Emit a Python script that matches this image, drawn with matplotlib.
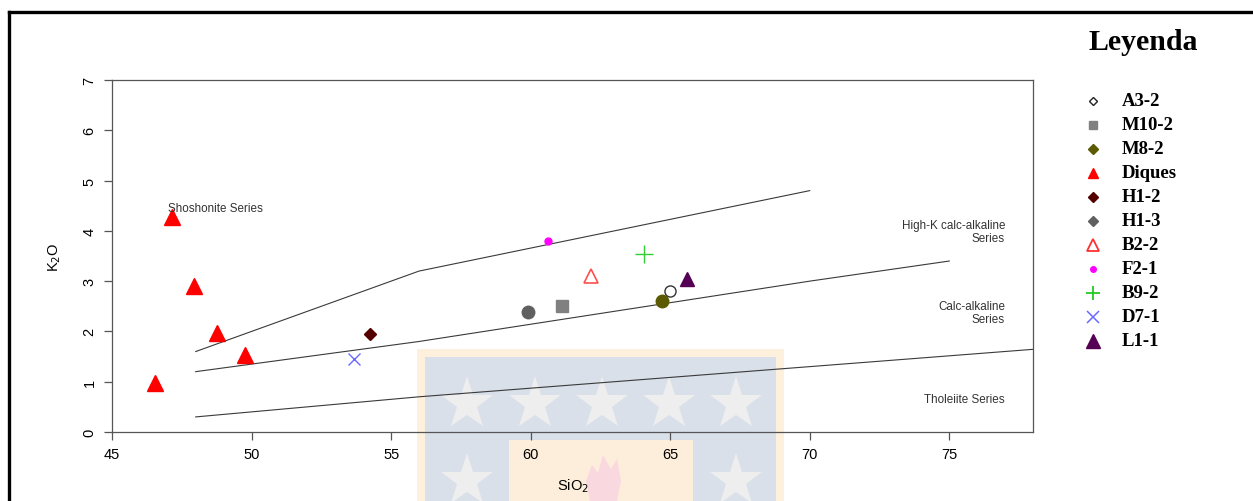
import matplotlib
matplotlib.use("Agg")
import matplotlib.pyplot as plt
from matplotlib.lines import Line2D
from matplotlib.patches import Rectangle, Polygon
import numpy as np

# Peccerillo & Taylor (1976) K2O vs SiO2 boundaries
shosh_x = [48, 56, 70]
shosh_y = [1.6, 3.2, 4.8]
highk_x = [48, 56, 63, 70, 75]
highk_y = [1.2, 1.8, 2.4, 3.0, 3.4]
thol_x = [48, 56, 70, 80]
thol_y = [0.3, 0.7, 1.3, 1.73]

# samples
diques_sio2 = [47.15, 47.94, 48.76, 49.77, 46.54]
diques_k2o = [4.28, 2.90, 1.97, 1.53, 0.97]

samples = ["A3-2", "M10-2", "M8-2", "H1-2", "H1-3", "B2-2", "F2-1", "B9-2", "D7-1", "L1-1"]
sio2 = [64.98, 61.14, 64.70, 54.26, 59.91, 62.17, 60.62, 64.07, 53.68, 65.62]
k2o = [2.81, 2.50, 2.60, 1.95, 2.39, 3.10, 3.79, 3.53, 1.45, 3.04]

styles = {
    "A3-2":  dict(marker="o", ms=8, mfc="white", mec="#333333", mew=1.0),
    "M10-2": dict(marker="s", ms=8, mfc="#808080", mec="#808080"),
    "M8-2":  dict(marker="o", ms=9, mfc="#5c5a00", mec="#5c5a00"),
    "H1-2":  dict(marker="D", ms=6, mfc="#550000", mec="#550000"),
    "H1-3":  dict(marker="o", ms=9, mfc="#606060", mec="#606060"),
    "B2-2":  dict(marker="^", ms=10, mfc="none", mec="#ff4f4f", mew=1.2),
    "F2-1":  dict(marker="o", ms=5, mfc="#ff00ff", mec="#ff00ff"),
    "B9-2":  dict(marker="+", ms=13, mec="#33cc33", mew=1.0),
    "D7-1":  dict(marker="x", ms=9, mec="#6a6aff", mew=1.0),
    "L1-1":  dict(marker="^", ms=10, mfc="#550055", mec="#550055"),
}
diques_style = dict(marker="^", ms=11, mfc="#ff0000", mec="#ff0000")

# legend entries (order and symbols as in the key)
leg_names = ["A3-2", "M10-2", "M8-2", "Diques", "H1-2", "H1-3", "B2-2", "F2-1", "B9-2", "D7-1", "L1-1"]
leg_styles = [
    dict(marker="D", ms=4.5, mfc="white", mec="#222222", mew=1.0),
    dict(marker="s", ms=6, mfc="#808080", mec="#808080"),
    dict(marker="D", ms=5, mfc="#5c5a00", mec="#5c5a00"),
    dict(marker="^", ms=7, mfc="#ff0000", mec="#ff0000"),
    dict(marker="D", ms=5, mfc="#550000", mec="#550000"),
    dict(marker="D", ms=5, mfc="#606060", mec="#606060"),
    dict(marker="^", ms=8, mfc="none", mec="#ff3030", mew=1.3),
    dict(marker="o", ms=4, mfc="#ff00ff", mec="#ff00ff"),
    dict(marker="+", ms=10, mec="#22cc22", mew=1.3),
    dict(marker="x", ms=8, mec="#6a6aff", mew=1.1),
    dict(marker="^", ms=10, mfc="#550055", mec="#550055"),
]

W, H = 1253, 502
fig = plt.figure(figsize=(W / 100, H / 100), dpi=100)

def px(x, y):
    return x / W, 1 - y / H

# background watermark
wm = [
    (417, 350, 784, 510, "#fdf0dc"),
    (425, 358, 776, 510, "#d9e0ea"),
    (509, 441, 693, 510, "#fdeedb"),
]
for x0, y0, x1, y1, c in wm:
    fig.patches.append(Rectangle(px(x0, y1), (x1 - x0) / W, (y1 - y0) / H,
                                 transform=fig.transFigure, color=c, zorder=-5, lw=0))
for sx, sy in [(467, 405), (535, 405), (602, 405), (669, 405), (736, 405), (467, 482), (736, 482)]:
    fig.add_artist(Line2D([sx / W], [1 - sy / H], transform=fig.transFigure, marker="*",
                          ms=40, color="#eeeeee", mew=0, zorder=-4))
flame = [(590, 502), (586, 482), (592, 466), (598, 474), (603, 456), (611, 470), (617, 460),
         (621, 482), (617, 502)]
fig.patches.append(Polygon([px(a, b) for a, b in flame], closed=True, transform=fig.transFigure,
                           color="#fad8e0", zorder=-4, lw=0))

# outer frame
fig.add_artist(Line2D([9 / W, 9 / W], [0, 1 - 13 / H], transform=fig.transFigure, color="black", lw=2.4))
fig.add_artist(Line2D([9 / W, 1], [1 - 13 / H, 1 - 13 / H], transform=fig.transFigure, color="black", lw=2.4))

ax = fig.add_axes([112 / W, 69 / H, (1033 - 112) / W, (433 - 81) / H])
ax.patch.set_alpha(0)

ax.plot(shosh_x, shosh_y, color="#3a3a3a", lw=0.8)
ax.plot(highk_x, highk_y, color="#3a3a3a", lw=0.8)
ax.plot(thol_x, thol_y, color="#3a3a3a", lw=0.8)

ax.plot(diques_sio2, diques_k2o, ls="none", **diques_style)
for name, x, y in zip(samples, sio2, k2o):
    ax.plot([x], [y], ls="none", **styles[name])

lab = dict(fontsize=8.4, color="#333333", family="Liberation Sans")
ax.text(47.0, 4.45, "Shoshonite Series", ha="left", va="center", **lab)
ax.text(77.0, 3.98, "High-K calc-alkaline\nSeries", ha="right", va="center", linespacing=1.1, **lab)
ax.text(77.0, 2.38, "Calc-alkaline\nSeries", ha="right", va="center", linespacing=1.1, **lab)
ax.text(77.0, 0.66, "Tholeiite Series", ha="right", va="center", **lab)

ax.set_xlim(45, 78)
ax.set_ylim(0, 7)
ax.set_xticks([45, 50, 55, 60, 65, 70, 75])
ax.set_yticks(range(8))
for s in ax.spines.values():
    s.set_color("#555555")
    s.set_linewidth(0.9)
ax.tick_params(length=6, width=0.9, color="#555555", labelsize=10.5, pad=5)
for t in ax.get_xticklabels() + ax.get_yticklabels():
    t.set_family("Liberation Sans")
for t in ax.get_yticklabels():
    t.set_rotation(90)
    t.set_va("center")
ax.set_xlabel("SiO$_2$", fontsize=10.5, family="Liberation Sans", labelpad=11)
ax.set_ylabel("K$_2$O", fontsize=10.5, family="Liberation Sans", labelpad=14)

# legend box on the right
fig.text(1143 / W, 1 - 43 / H, "Leyenda", ha="center", va="center", fontsize=21.5,
         fontweight="bold", family="Liberation Serif")
for i, (name, st) in enumerate(zip(leg_names, leg_styles)):
    yy = 1 - (101.5 + 24 * i) / H
    fig.add_artist(Line2D([1093 / W], [yy], transform=fig.transFigure, ls="none", **st))
    fig.text(1122 / W, yy, name, ha="left", va="center", fontsize=13.5,
             fontweight="bold", family="Liberation Serif")

fig.savefig("out.png", dpi=100)
